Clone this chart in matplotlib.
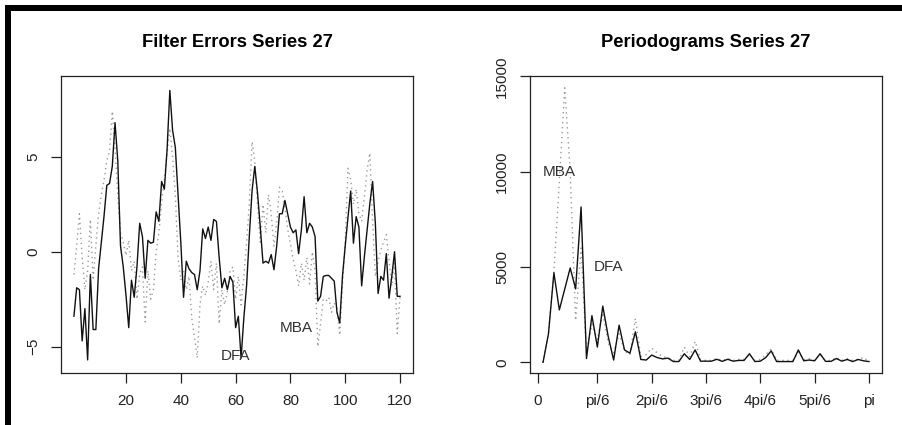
import matplotlib
matplotlib.use("Agg")
import matplotlib.pyplot as plt
from matplotlib.patches import Rectangle
import numpy as np

plt.rcParams['font.family'] = ['Liberation Sans', 'DejaVu Sans']

# filter errors, t = 1..120
err_solid = [-3.4, -1.9, -2.0, -4.7, -3.0, -5.7, -1.2, -4.1, -4.1, -0.9,
             0.5, 1.9, 3.5, 3.6, 4.5, 6.8, 4.8, 0.3, -0.8, -2.3,
             -4.0, -1.5, -2.4, -0.8, 1.5, 0.8, -1.4, 0.6, 0.45, 0.5,
             2.1, 1.6, 3.7, 3.3, 5.4, 8.5, 6.4, 5.5, 3.0, 0.5,
             -2.4, -0.5, -0.9, -1.1, -1.2, -2.0, -1.0, 1.2, 0.7, 1.3,
             0.6, 1.7, 1.6, -0.3, -1.9, -1.4, -2.0, -1.3, -1.6, -4.0,
             -3.4, -5.6, -3.5, -1.8, 0.8, 3.2, 4.5, 3.1, 1.3, -0.6,
             -0.5, -0.6, -0.15, -0.95, 0.3, 2.0, 2.0, 2.7, 2.0, 1.3,
             1.0, 1.15, -0.1, 1.15, 2.9, 1.0, 1.5, 1.3, 0.8, -2.6,
             -2.35, -1.3, -1.25, -1.25, -1.4, -1.55, -3.2, -3.75, -1.3, 0.3,
             1.8, 3.2, 0.45, 1.85, 1.3, -1.8, -0.25, 1.15, 2.55, 3.7,
             1.5, -2.2, -1.3, -1.5, -0.1, -2.45, -1.3, 0.0, -2.35, -2.35]
err_dotted = [-1.2, 0.3, 2.0, -0.3, -2.0, -1.0, 1.7, -1.5, 0.3, 2.0,
              3.0, 3.8, 4.8, 5.3, 7.4, 5.5, 3.0, 1.0, 0.5, -0.2,
              0.6, -1.0, -0.5, -2.5, -1.2, -0.8, -3.7, -1.0, -2.5, -2.0,
              0.0, 1.0, 2.6, 3.8, 5.2, 6.5, 5.0, 3.0, -0.3, -1.5,
              -1.0, -2.0, -1.3, -3.5, -4.5, -5.6, -2.8, -1.8, -2.3, -1.6,
              -0.5, -2.0, -0.6, -3.8, -2.0, -2.8, -2.1, -1.0, -0.8, -2.5,
              -1.3, -2.8, -1.3, 0.5, 2.5, 5.8, 4.8, 2.5, 0.5, 2.5,
              1.0, 3.0, 2.0, 0.3, 1.5, 3.4, 3.2, 2.3, 1.2, 0.4,
              -0.4, -1.0, -1.8, -0.6, -1.5, -0.3, -1.7, 0.0, -1.0, -5.0,
              -3.8, -2.5, -2.6, -2.4, -3.2, -2.7, -3.0, -4.4, -1.7, 0.5,
              4.4, 3.8, 2.5, 3.3, 2.0, 1.6, 2.9, 4.3, 5.2, 1.6,
              -1.3, -0.5, 0.1, 0.5, 0.9, -0.5, -1.8, -0.6, -4.3, -2.4]

# periodograms, k = 1..61
per_solid = [0, 1500, 4700, 2750, 3850, 4950, 3850, 8150, 200, 2450,
             800, 2950, 1350, 120, 1950, 650, 480, 1600, 150, 120,
             380, 250, 180, 220, 40, 40, 450, 150, 650, 60,
             60, 60, 160, 50, 160, 60, 100, 100, 450, 40,
             60, 250, 600, 40, 40, 40, 40, 650, 80, 120,
             80, 450, 50, 50, 200, 60, 150, 40, 150, 80, 40]
per_dotted = [0, 1500, 4700, 9500, 14400, 10000, 2200, 6000, 500, 2000,
              1200, 2600, 1000, 500, 1500, 600, 400, 2300, 300, 400,
              750, 500, 300, 250, 100, 100, 800, 300, 1100, 150,
              100, 100, 200, 100, 200, 100, 150, 150, 400, 100,
              150, 400, 700, 100, 100, 100, 100, 550, 150, 200,
              100, 400, 100, 100, 250, 100, 200, 100, 150, 250, 50]

per_ticks = [0, 11, 21, 31, 41, 51, 61]
per_labels = ['0', 'pi/6', '2pi/6', '3pi/6', '4pi/6', '5pi/6', 'pi']

W, H = 903, 425
fig = plt.figure(figsize=(W / 100, H / 100), dpi=100)

ax1 = fig.add_axes([61 / W, 1 - 373 / H, 352 / W, 297 / H])
ax2 = fig.add_axes([530 / W, 1 - 373 / H, 352 / W, 297 / H])

t = np.arange(1, len(err_solid) + 1)
k = np.arange(1, len(per_solid) + 1)

dot_style = dict(color='#9a9a9a', lw=1.0, linestyle=(0, (1, 2.6)))
ax1.plot(t, err_dotted, **dot_style)
ax1.plot(t, err_solid, color='#111111', lw=1.0)
ax1.text(82, -4.0, 'MBA', ha='center', va='center', fontsize=11, color='#333333')
ax1.text(60, -5.5, 'DFA', ha='center', va='center', fontsize=11, color='#333333')
ax1.set_xlim(-3.72, 124.74)
ax1.set_ylim(-6.39, 9.26)
ax1.set_xticks([20, 40, 60, 80, 100, 120])
ax1.set_yticks([-5, 0, 5])
ax1.set_title('Filter Errors Series 27', fontsize=13.2, fontweight='bold', pad=21)

ax2.plot(k, per_dotted, **dot_style)
ax2.plot(k, per_solid, color='#111111', lw=1.0)
ax2.text(4, 10000, 'MBA', ha='center', va='center', fontsize=11, color='#333333')
ax2.text(13, 5000, 'DFA', ha='center', va='center', fontsize=11, color='#333333')
ax2.set_xlim(-1.4, 63.4)
ax2.set_ylim(-560, 15020)
ax2.set_xticks(per_ticks)
ax2.set_xticklabels(per_labels)
ax2.set_yticks([0, 5000, 10000, 15000])
ax2.set_title('Periodograms Series 27', fontsize=13.2, fontweight='bold', pad=21)

for ax in (ax1, ax2):
    for s in ax.spines.values():
        s.set_color('#222222')
        s.set_linewidth(0.9)
    ax.tick_params(direction='out', length=7, width=0.9, color='#222222',
                   labelsize=11, labelcolor='#222222', pad=8)
    for lab in ax.get_yticklabels():
        lab.set_rotation(90)
        lab.set_va('center')

# scan border
fig.add_artist(Rectangle((5 / W, 1 - 11 / H), 1, 6 / H, transform=fig.transFigure,
                         color='black', lw=0))
fig.add_artist(Rectangle((5 / W, 0), 6 / W, 1 - 5 / H, transform=fig.transFigure,
                         color='black', lw=0))

fig.savefig('out.png', dpi=100)
